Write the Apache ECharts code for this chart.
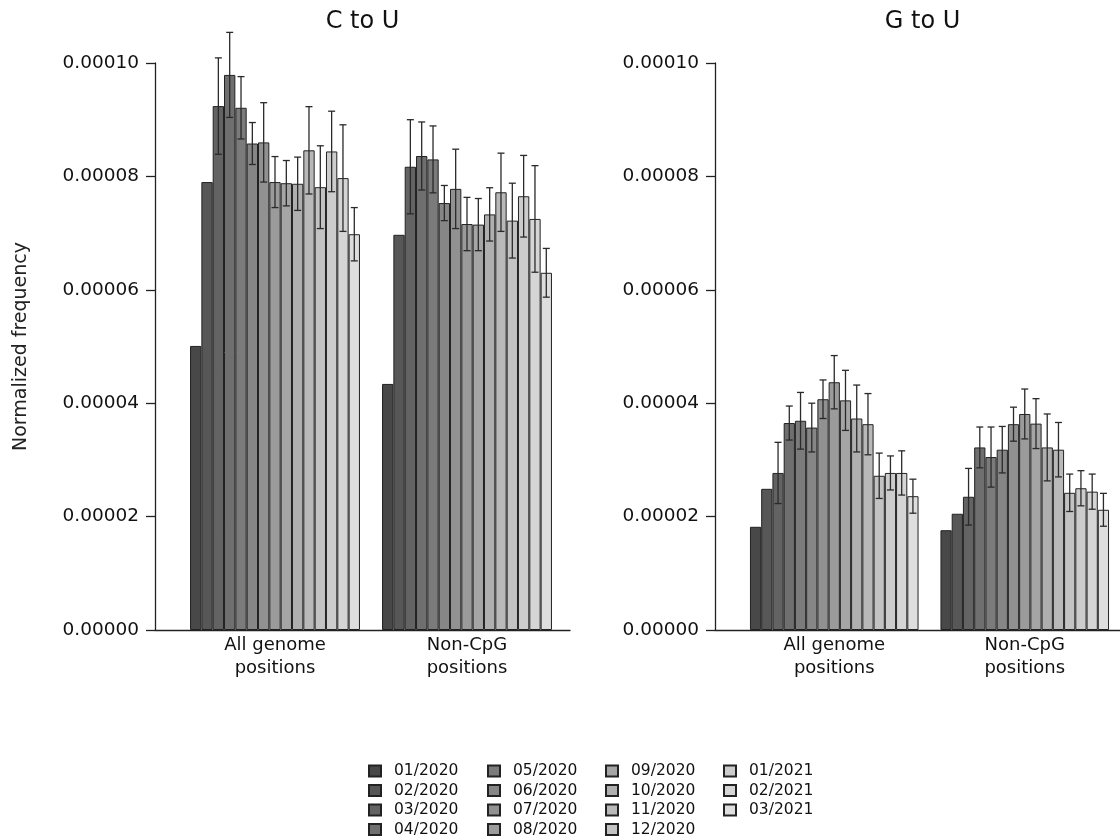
<!DOCTYPE html>
<html>
<head>
<meta charset="utf-8">
<script src="https://cdn.jsdelivr.net/npm/echarts@6/dist/echarts.min.js"></script>
<style>
html,body{margin:0;padding:0;background:#fff;}
#chart{width:1120px;height:840px;}
</style>
</head>
<body>
<div id="chart"></div>
<script>
// ---- data ----
const months = ['01/2020','02/2020','03/2020','04/2020','05/2020','06/2020','07/2020','08/2020',
                '09/2020','10/2020','11/2020','12/2020','01/2021','02/2021','03/2021'];
const categories = ['All genome\npositions', 'Non-CpG\npositions'];
const panelTitles = ['C to U', 'G to U'];
const yTicks = [0, 0.00002, 0.00004, 0.00006, 0.00008, 0.00010];

const cToU_all     = [5.01e-5, 7.90e-5, 9.24e-5, 9.79e-5, 9.21e-5, 8.58e-5, 8.60e-5, 7.90e-5, 7.88e-5, 7.87e-5, 8.46e-5, 7.81e-5, 8.44e-5, 7.97e-5, 6.98e-5];
const cToU_all_err = [null, null, 0.85e-5, 0.75e-5, 0.55e-5, 0.37e-5, 0.70e-5, 0.45e-5, 0.40e-5, 0.47e-5, 0.77e-5, 0.73e-5, 0.71e-5, 0.94e-5, 0.47e-5];
const cToU_non     = [4.34e-5, 6.97e-5, 8.17e-5, 8.36e-5, 8.30e-5, 7.53e-5, 7.78e-5, 7.16e-5, 7.15e-5, 7.33e-5, 7.72e-5, 7.22e-5, 7.65e-5, 7.25e-5, 6.30e-5];
const cToU_non_err = [null, null, 0.83e-5, 0.60e-5, 0.59e-5, 0.31e-5, 0.70e-5, 0.47e-5, 0.46e-5, 0.47e-5, 0.69e-5, 0.66e-5, 0.72e-5, 0.94e-5, 0.43e-5];

const gToU_all     = [1.82e-5, 2.49e-5, 2.77e-5, 3.65e-5, 3.69e-5, 3.57e-5, 4.07e-5, 4.37e-5, 4.05e-5, 3.73e-5, 3.63e-5, 2.72e-5, 2.77e-5, 2.77e-5, 2.36e-5];
const gToU_all_err = [null, null, 0.54e-5, 0.30e-5, 0.50e-5, 0.43e-5, 0.34e-5, 0.47e-5, 0.53e-5, 0.59e-5, 0.54e-5, 0.40e-5, 0.30e-5, 0.39e-5, 0.30e-5];
const gToU_non     = [1.76e-5, 2.05e-5, 2.35e-5, 3.22e-5, 3.05e-5, 3.18e-5, 3.63e-5, 3.81e-5, 3.64e-5, 3.22e-5, 3.18e-5, 2.42e-5, 2.50e-5, 2.44e-5, 2.12e-5];
const gToU_non_err = [null, null, 0.50e-5, 0.36e-5, 0.53e-5, 0.41e-5, 0.30e-5, 0.44e-5, 0.44e-5, 0.59e-5, 0.48e-5, 0.33e-5, 0.31e-5, 0.31e-5, 0.29e-5];

// ---- style ----
const colors = ['#484848','#575757','#636363','#6f6f6f','#7b7b7b','#868686','#919191','#9b9b9b',
                '#a5a5a5','#afafaf','#b9b9b9','#c3c3c3','#cccccc','#d5d5d5','#dedede'];
const FONT = 'DejaVu Sans';
const GAP = 0.115;
const TOP = 63, H = 567;
const panels = [
  { title: panelTitles[0], all: cToU_all, allErr: cToU_all_err, non: cToU_non, nonErr: cToU_non_err, frameLeft: 155, barLeft: 179, yName: 'Normalized frequency' },
  { title: panelTitles[1], all: gToU_all, allErr: gToU_all_err, non: gToU_non, nonErr: gToU_non_err, frameLeft: 715, barLeft: 739, yName: '' }
];

const grid = [], xAxis = [], yAxis = [], series = [], title = [];
panels.forEach((p, pi) => {
  const fg = grid.length;
  grid.push({ left: p.frameLeft, top: TOP, width: 415, height: H, containLabel: false });
  grid.push({ left: p.barLeft, top: TOP, width: 384, height: H, containLabel: false });
  // frame axes
  xAxis.push({ gridIndex: fg, type: 'value', min: 0, max: 1, show: true,
    axisLine: { show: true, onZero: false, lineStyle: { color: '#222', width: 1.3 } },
    axisTick: { show: false }, axisLabel: { show: false }, splitLine: { show: false } });
  yAxis.push({ gridIndex: fg, type: 'value', min: 0, max: 0.0001, interval: 0.00002,
    name: p.yName, nameLocation: 'middle', nameGap: 124, nameRotate: 90,
    nameTextStyle: { fontFamily: FONT, fontSize: 19, color: '#222' },
    axisLine: { show: true, lineStyle: { color: '#222', width: 1.3 } },
    axisTick: { show: true, length: 9, lineStyle: { color: '#222', width: 1.3 } },
    axisLabel: { show: true, margin: 16, fontFamily: FONT, fontSize: 18.5, color: '#111',
      formatter: v => v.toFixed(5) },
    splitLine: { show: false } });
  // bar axes
  xAxis.push({ gridIndex: fg + 1, type: 'category', data: categories,
    axisLine: { show: false }, axisTick: { show: false },
    axisLabel: { show: true, margin: 4, fontFamily: FONT, fontSize: 18, lineHeight: 23, color: '#111' } });
  yAxis.push({ gridIndex: fg + 1, type: 'value', min: 0, max: 0.0001, show: false, splitLine: { show: false } });

  months.forEach((m, i) => {
    series.push({
      type: 'bar', name: m, xAxisIndex: fg + 1, yAxisIndex: fg + 1,
      data: [p.all[i], p.non[i]],
      barGap: '0%', barCategoryGap: (GAP * 100) + '%',
      itemStyle: { color: colors[i], borderColor: '#222', borderWidth: 1 },
      emphasis: { disabled: true }, z: 2
    });
  });

  const errData = [];
  months.forEach((m, i) => {
    if (p.allErr[i] != null) errData.push([0, i, p.all[i], p.allErr[i]]);
    if (p.nonErr[i] != null) errData.push([1, i, p.non[i], p.nonErr[i]]);
  });
  series.push({
    type: 'custom', name: 'err' + pi, xAxisIndex: fg + 1, yAxisIndex: fg + 1,
    data: errData, encode: { x: 0, y: 2 }, z: 5, silent: true,
    renderItem: (params, api) => {
      const cat = api.value(0), hue = api.value(1), v = api.value(2), e = api.value(3);
      const center = api.coord([cat, 0])[0];
      const band = api.size([1, 0])[0];
      const gw = band * (1 - GAP);
      const bw = gw / months.length;
      const cx = center - gw / 2 + (hue + 0.5) * bw;
      const yt = api.coord([cat, v + e])[1];
      const yb = api.coord([cat, v - e])[1];
      const cap = 3.5;
      const st = { stroke: '#2a2a2a', lineWidth: 1.3 };
      return { type: 'group', children: [
        { type: 'line', shape: { x1: cx, y1: yt, x2: cx, y2: yb }, style: st },
        { type: 'line', shape: { x1: cx - cap, y1: yt, x2: cx + cap, y2: yt }, style: st },
        { type: 'line', shape: { x1: cx - cap, y1: yb, x2: cx + cap, y2: yb }, style: st }
      ]};
    }
  });

  title.push({ text: p.title, left: p.frameLeft + 207.5, top: 10, textAlign: 'center', padding: 0,
    textStyle: { fontFamily: FONT, fontSize: 24, fontWeight: 'normal', color: '#111' } });
});

const legendCols = [months.slice(0, 4), months.slice(4, 8), months.slice(8, 12), months.slice(12, 15)];
const legendLefts = [368, 487, 605, 723];
const legend = legendCols.map((d, k) => ({
  data: d, orient: 'vertical', left: legendLefts[k], top: 763, padding: 0,
  itemWidth: 12, itemHeight: 11, itemGap: 3.5, icon: 'rect', selectedMode: false,
  textStyle: { fontFamily: FONT, fontSize: 15.5, color: '#111', lineHeight: 16, padding: [0, 0, 0, 8] }
}));

const chart = echarts.init(document.getElementById('chart'), null, { renderer: 'canvas' });
chart.setOption({ animation: false, backgroundColor: '#fff', title, legend, grid, xAxis, yAxis, series });
</script>
</body>
</html>
